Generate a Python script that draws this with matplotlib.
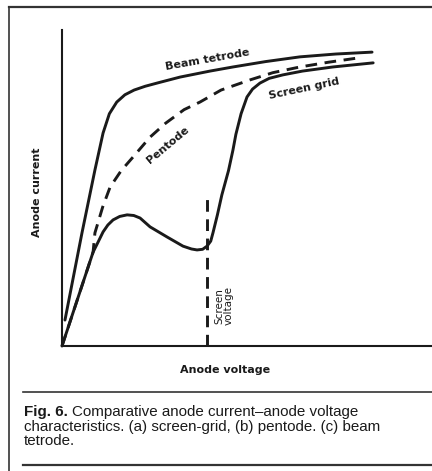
import numpy as np
import matplotlib.pyplot as plt
from matplotlib.lines import Line2D

# Curves (anode voltage, anode current), arbitrary units 0-100
beam_v = [0.8, 5.4, 8.9, 11.1, 12.8, 14.8, 17.0, 19.5, 22.5, 26.0, 31.9, 40.0, 46.2, 55.0, 64.3, 74.0, 83.8]
beam_i = [8.2, 35.8, 55.7, 67.4, 73.5, 77.2, 79.5, 81.0, 82.2, 83.3, 85.1, 87.0, 88.3, 90.0, 91.5, 92.4, 93.0]

pent_v = [0.0, 8.4, 8.9, 11.0, 13.0, 16.0, 19.2, 23.8, 28.0, 33.0, 37.3, 43.0, 50.8, 57.0, 64.3, 72.0, 79.7]
pent_i = [0.0, 29.7, 35.8, 44.0, 50.3, 55.5, 59.8, 66.1, 70.5, 74.8, 77.2, 81.0, 84.2, 86.5, 88.3, 89.8, 91.1]

grid_v = [0.0, 8.4, 9.8, 11.1, 12.4, 13.8, 15.6, 17.6, 19.4, 21.1, 23.8, 28.4, 32.7, 35.0, 36.5, 38.0, 39.2,
          40.2, 40.8, 42.0, 43.2, 45.0, 46.2, 47.0, 48.4, 50.0, 51.5, 53.5, 56.0, 59.7, 65.0, 73.2, 84.1]
grid_i = [0.0, 29.7, 33.0, 36.1, 38.3, 39.9, 41.0, 41.5, 41.3, 40.5, 37.7, 34.5, 31.6, 30.7, 30.4, 30.6, 31.6,
          33.2, 35.8, 41.5, 47.8, 55.5, 62.0, 67.0, 73.5, 78.8, 81.3, 83.2, 84.7, 85.8, 87.0, 88.3, 89.6]

screen_v = 39.2
screen_top = 47.2

W, H = 432, 471
fig = plt.figure(figsize=(W / 100, H / 100), dpi=100)
fig.patch.set_facecolor('white')


def fx(x):
    return x / W


def fy(y):
    return (H - y) / H


ink = '#1a1a1a'

# frame of the figure box
for (x0, y0, x1, y1, lw) in [(9, 7, 432, 7, 1.6), (9, 7, 9, 471, 1.2),
                             (23, 392, 432, 392, 1.2), (23, 465, 432, 465, 1.6)]:
    fig.add_artist(Line2D([fx(x0), fx(x1)], [fy(y0), fy(y1)], transform=fig.transFigure,
                          color='#333333', lw=lw))

ax = fig.add_axes([fx(62), fy(346), fx(432) - fx(62), fy(30) - fy(346)])
ax.set_xlim(0, 100)
ax.set_ylim(0, 100)
for s in ['top', 'right']:
    ax.spines[s].set_visible(False)
for s in ['left', 'bottom']:
    ax.spines[s].set_linewidth(1.5)
    ax.spines[s].set_color(ink)
ax.set_xticks([])
ax.set_yticks([])
ax.patch.set_alpha(0)

ax.plot(beam_v, beam_i, color=ink, lw=2.1, solid_capstyle='round', solid_joinstyle='round', clip_on=False)
ax.plot(grid_v, grid_i, color=ink, lw=2.1, solid_capstyle='round', solid_joinstyle='round', clip_on=False)
ax.plot(pent_v, pent_i, color=ink, lw=2.1, dashes=(4, 2.6), clip_on=False)
ax.plot([screen_v, screen_v], [0, screen_top], color=ink, lw=2.1, dashes=(4, 2.6), clip_on=False)

lab = dict(family='DejaVu Sans', fontweight='bold', fontsize=8, color=ink,
           ha='center', va='center', rotation_mode='anchor')
ax.text(39.2, 90.5, 'Beam tetrode', rotation=10, **lab)
ax.text(65.4, 81.3, 'Screen grid', rotation=12, **lab)
ax.text(28.6, 63.6, 'Pentode', rotation=40, **lab)
ax.text(43.8, 12.7, 'Screen\nvoltage', rotation=90, linespacing=1.0,
        family='DejaVu Sans', fontsize=7.5, color=ink, ha='center', va='center')

fig.text(fx(37), fy(192), 'Anode current', rotation=90, family='DejaVu Sans',
         fontweight='bold', fontsize=8, color=ink, ha='center', va='center')
fig.text(fx(225), fy(370), 'Anode voltage', family='DejaVu Sans',
         fontweight='bold', fontsize=8, color=ink, ha='center', va='center')

# caption
cap = dict(family='Liberation Sans', fontsize=10.9, color=ink, va='center')
t = fig.text(fx(24), fy(412), 'Fig. 6.', fontweight='bold', **cap)
r = fig.canvas.get_renderer()
bb = t.get_window_extent(renderer=r)
fig.text(bb.x1 / W + 4 / W, fy(412), 'Comparative anode current\u2013anode voltage', **cap)
fig.text(fx(24), fy(427), 'characteristics. (a) screen-grid, (b) pentode. (c) beam', **cap)
fig.text(fx(24), fy(441), 'tetrode.', **cap)

fig.savefig('out.png', dpi=100)
